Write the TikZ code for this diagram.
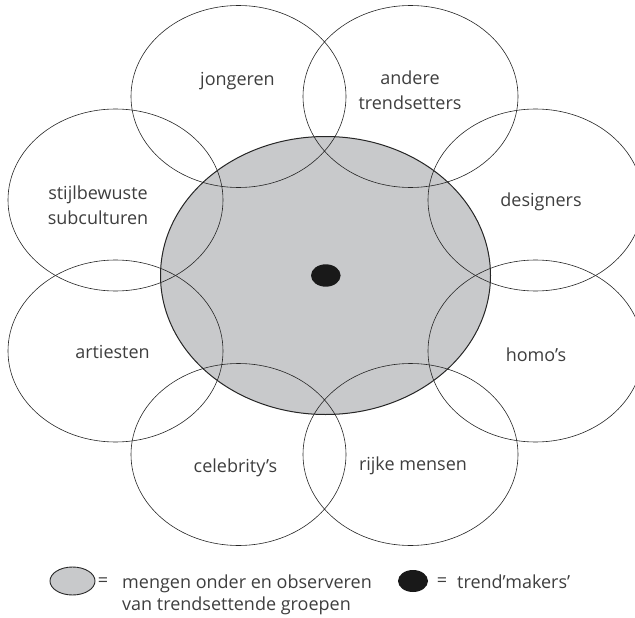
\documentclass[tikz,border=0pt]{standalone}
\usepackage{fontspec}
\setmainfont{Open Sans}
\usetikzlibrary{shapes.geometric,positioning}
\definecolor{mixgray}{RGB}{200,201,203}
\definecolor{txtgray}{RGB}{62,62,62}
\begin{document}
\begin{tikzpicture}[x=1pt,y=-1pt,
 every node/.style={font=\fontsize{18}{25}\selectfont,text=txtgray},
 group/.style={draw=black!85,ellipse,line width=0.6pt,minimum width=215pt,
 minimum height=182pt,inner sep=0pt},
 lbl/.style={align=center,inner sep=0pt}, base/.style={anchor=base,inner sep=0pt}]
\useasboundingbox (0,0) rectangle (635,618);
\node[ellipse,fill=mixgray,draw=black!85,line width=1pt,minimum width=330pt,
 minimum height=278pt] (mix) at (325.5,275.5) {};
\node[group] (jong) at (238.5,96.5) {};
\node[group] (andere) at (410.5,96.5) {};
\node[group] (stijl) at (115.5,200) {};
\node[group] (design) at (535.5,200) {};
\node[group] (art) at (115.5,351) {};
\node[group] (homo) at (535.5,351) {};
\node[group] (celeb) at (238.5,454.5) {};
\node[group] (rijk) at (410.5,454.5) {};
\node[ellipse,fill=black!90,minimum width=29.6pt,minimum height=22.4pt,
 inner sep=0pt] (maker) at (325.8,275.5) {};
\node[base] (tjong) at (237.5,85) {jongeren};
\node[lbl] (tandere) at (410,90) {andere\\trendsetters};
\node[lbl] (tstijl) at (98,205.3) {stijlbewuste\\subculturen};
\node[base] (tdesign) at (541,206) {designers};
\node[base] (tart) at (112.5,358) {artiesten};
\node[base] (thomo) at (536,361.5) {homo’s};
\node[base] (tceleb) at (235.5,472.5) {celebrity’s};
\node[base] (trijk) at (413,470.5) {rijke mensen};
\node[ellipse,fill=mixgray,draw=black!85,line width=0.9pt,minimum width=45pt,
 minimum height=28pt,inner sep=0pt] (keymix) at (72.5,581) {};
\node[inner sep=0pt] (eqmix) at (103,582) {=};
\node[lbl,align=left,anchor=west,font=\fontsize{18}{22}\selectfont]
 (txtmix) at (122,594.5) {mengen onder en observeren\\van trendsettende groepen};
\node[ellipse,fill=black!90,minimum width=30pt,minimum height=22pt,
 inner sep=0pt] (keymaker) at (413,581) {};
\node[inner sep=0pt] (eqmaker) at (442,582) {=};
\node[base,anchor=base west] (txtmaker) at (457,588.3) {trend’makers’};
\end{tikzpicture}
\end{document}
